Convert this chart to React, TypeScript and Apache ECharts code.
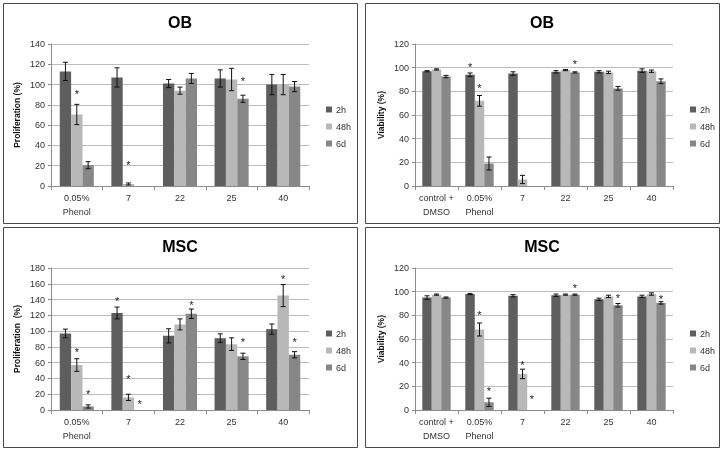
import React, { useEffect, useRef } from 'react';
import * as echarts from 'echarts';

const prolifCats = ['0.05%\nPhenol', '7', '22', '25', '40'];
const viabCats = ['control +\nDMSO', '0.05%\nPhenol', '7', '22', '25', '40'];
const seriesNames = ['2h', '48h', '6d'];
const barColors = ['#5e5e5e', '#b8b8b8', '#878787'];

// OB proliferation
const obProl2h = [113, 107, 101, 106, 100];
const obProl48h = [70.5, 2, 94, 105, 100];
const obProl6d = [20.5, 0, 106, 86, 98];
const obProl2hErr = [9, 9.5, 4, 8.5, 10];
const obProl48hErr = [10, 1, 3.5, 11, 10];
const obProl6dErr = [3.5, 0, 5, 3.5, 5];
const obProlStars = [[0, 1, 94], [1, 1, 23.5], [3, 2, 106]];

// OB viability
const obViab2h = [97, 94, 95, 96.5, 96.5, 97.5];
const obViab48h = [98.5, 72, 5.5, 98, 96, 97];
const obViab6d = [92.5, 19, 0, 96, 82.5, 88.5];
const obViab2hErr = [0.5, 1.5, 1.5, 1, 1, 1.5];
const obViab48hErr = [0.5, 4.5, 3.5, 0.5, 1, 1];
const obViab6dErr = [1, 5.5, 0, 0.5, 1.5, 2];
const obViabStars = [[1, 0, 102.7], [1, 1, 85.7], [3, 2, 106]];

// MSC proliferation
const mscProl2h = [97, 123, 94, 91, 102.5];
const mscProl48h = [57, 16, 108.5, 83.5, 145];
const mscProl6d = [4.5, 0, 122, 68, 70];
const mscProl2hErr = [5.5, 7.5, 9, 5.5, 6.5];
const mscProl48hErr = [8, 4, 7, 8, 14];
const mscProl6dErr = [2, 0, 6, 4, 4];
const mscProlStars = [[0, 1, 77], [0, 2, 24.4], [1, 0, 142], [1, 1, 42.5], [1, 2, 11.8], [2, 2, 137], [3, 2, 89.6], [4, 1, 170], [4, 2, 89.6]];

// MSC viability
const mscViab2h = [95, 98, 96.5, 97, 93.5, 96];
const mscViab48h = [97.5, 68, 30.5, 97.5, 96, 98];
const mscViab6d = [95, 6.5, 0, 97.5, 88.5, 90.5];
const mscViab2hErr = [1.5, 0.5, 1, 1, 1, 1];
const mscViab48hErr = [0.5, 5.5, 4, 0.5, 1, 1];
const mscViab6dErr = [0.5, 3.5, 0, 0.5, 1.5, 1];
const mscViabStars = [[1, 1, 82.7], [1, 2, 19], [2, 1, 40.4], [2, 2, 12], [3, 2, 106], [4, 2, 97.6], [5, 2, 96.7]];

const FONT = 'Liberation Sans';

type Panel = {
  title: string;
  cats: string[];
  values: number[][];
  errs: number[][];
  stars: number[][];
  yMax: number;
  yName: string;
  left: number;
  top: number;
  boxX: number;
  boxY: number;
};

const panels: Panel[] = [
  { title: 'OB', cats: prolifCats, values: [obProl2h, obProl48h, obProl6d], errs: [obProl2hErr, obProl48hErr, obProl6dErr], stars: obProlStars, yMax: 140, yName: 'Proliferation (%)', left: 51, top: 44, boxX: 3, boxY: 3 },
  { title: 'OB', cats: viabCats, values: [obViab2h, obViab48h, obViab6d], errs: [obViab2hErr, obViab48hErr, obViab6dErr], stars: obViabStars, yMax: 120, yName: 'Viability (%)', left: 415, top: 44, boxX: 365, boxY: 3 },
  { title: 'MSC', cats: prolifCats, values: [mscProl2h, mscProl48h, mscProl6d], errs: [mscProl2hErr, mscProl48hErr, mscProl6dErr], stars: mscProlStars, yMax: 180, yName: 'Proliferation  (%)', left: 51, top: 268, boxX: 3, boxY: 227 },
  { title: 'MSC', cats: viabCats, values: [mscViab2h, mscViab48h, mscViab6d], errs: [mscViab2hErr, mscViab48hErr, mscViab6dErr], stars: mscViabStars, yMax: 120, yName: 'Viability (%)', left: 415, top: 268, boxX: 365, boxY: 227 },
];

const GROUP = 0.66;

function errRender(params: any, api: any) {
  const cat = api.value(0);
  const val = api.value(1);
  const err = api.value(2);
  const s = api.value(3);
  const catW = api.size([1, 0])[0];
  const bw = (catW * GROUP) / 3;
  const cx = api.coord([cat, val])[0] + (s - 1) * bw;
  const yT = api.coord([cat, val + err])[1];
  const yB = api.coord([cat, Math.max(0, val - err)])[1];
  const hw = 2.5;
  const st = { stroke: '#111', lineWidth: 1 };
  return {
    type: 'group',
    children: [
      { type: 'line', shape: { x1: cx, y1: yT, x2: cx, y2: yB }, style: st },
      { type: 'line', shape: { x1: cx - hw, y1: yT, x2: cx + hw, y2: yT }, style: st },
      { type: 'line', shape: { x1: cx - hw, y1: yB, x2: cx + hw, y2: yB }, style: st },
    ],
  };
}

function starRender(params: any, api: any) {
  const cat = api.value(0);
  const y = api.value(1);
  const s = api.value(2);
  const catW = api.size([1, 0])[0];
  const bw = (catW * GROUP) / 3;
  const p = api.coord([cat, y]);
  return {
    type: 'text',
    x: p[0] + (s - 1) * bw,
    y: p[1] + 3,
    style: {
      text: '*',
      align: 'center',
      verticalAlign: 'middle',
      fontSize: 11,
      fontFamily: FONT,
      fill: '#222222',
      stroke: 'none',
    },
  };
}

export default function App() {
  const ref = useRef<HTMLDivElement>(null);
  useEffect(() => {
    if (!ref.current) return;
    const chart = echarts.init(ref.current, undefined, { renderer: 'svg' });
    const grid: any[] = [];
    const xAxis: any[] = [];
    const yAxis: any[] = [];
    const series: any[] = [];
    const legend: any[] = [];
    const graphic: any[] = [];
    panels.forEach((p, i) => {
      grid.push({ left: p.left, top: p.top, width: 258, height: 142 });
      xAxis.push({
        type: 'category',
        gridIndex: i,
        data: p.cats,
        axisLine: { lineStyle: { color: '#8c8c8c' } },
        axisTick: { show: true, length: 4, lineStyle: { color: '#8c8c8c' } },
        axisLabel: { fontSize: 9, fontFamily: FONT, color: '#333', lineHeight: 14, margin: 5, interval: 0 },
      });
      yAxis.push({
        type: 'value',
        gridIndex: i,
        min: 0,
        max: p.yMax,
        interval: 20,
        name: p.yName,
        nameLocation: 'middle',
        nameRotate: 90,
        nameGap: 30,
        nameTextStyle: { fontSize: 8.5, fontWeight: 'bold', fontFamily: FONT, color: '#111' },
        axisLine: { show: true, lineStyle: { color: '#8c8c8c' } },
        axisTick: { show: true, length: 3, lineStyle: { color: '#8c8c8c' } },
        axisLabel: { fontSize: 9, fontFamily: FONT, color: '#333', margin: 6 },
        splitLine: { lineStyle: { color: '#bdbdbd', width: 1 } },
      });
      p.values.forEach((vals, s) => {
        series.push({
          type: 'bar',
          name: seriesNames[s],
          xAxisIndex: i,
          yAxisIndex: i,
          data: vals,
          itemStyle: { color: barColors[s] },
          barGap: '0%',
          barCategoryGap: '34%',
        });
      });
      const errData: number[][] = [];
      p.values.forEach((vals, s) => {
        vals.forEach((v, c) => {
          const e = p.errs[s][c];
          if (v > 0 && e > 0) errData.push([c, v, e, s]);
        });
      });
      series.push({
        type: 'custom',
        xAxisIndex: i,
        yAxisIndex: i,
        data: errData,
        encode: { x: 0, y: 1 },
        renderItem: errRender,
        itemStyle: { color: '#111' },
        z: 5,
        silent: true,
      });
      series.push({
        type: 'custom',
        xAxisIndex: i,
        yAxisIndex: i,
        data: p.stars.map((st) => [st[0], st[2], st[1]]),
        encode: { x: 0, y: 1 },
        renderItem: starRender,
        itemStyle: { color: '#222222' },
        z: 6,
        silent: true,
      });
      legend.push({
        data: seriesNames,
        orient: 'vertical',
        left: p.left + 270,
        top: p.top + 56,
        itemWidth: 6,
        itemHeight: 6,
        itemGap: 8,
        icon: 'rect',
        selectedMode: false,
        textStyle: { fontSize: 9, fontFamily: FONT, color: '#333', padding: [0, 0, 0, -1] },
      });
      graphic.push({
        type: 'rect',
        shape: { x: p.boxX + 0.5, y: p.boxY + 0.5, width: 354, height: 220 },
        style: { fill: 'none', stroke: '#4a4a4a', lineWidth: 1 },
        z: -1,
      });
      graphic.push({
        type: 'text',
        x: p.boxX + 177,
        y: p.boxY + 19,
        style: {
          text: p.title,
          align: 'center',
          verticalAlign: 'middle',
          fontSize: 16,
          fontWeight: 'bold',
          fontFamily: FONT,
          fill: '#000',
        },
      });
    });
    chart.setOption({
      animation: false,
      backgroundColor: '#fff',
      color: ['#222222'],
      grid,
      xAxis,
      yAxis,
      series,
      legend,
      graphic,
    });
    return () => chart.dispose();
  }, []);
  return (
    <div
      ref={ref}
      style={{ position: 'absolute', left: 0, top: 0, width: 724, height: 451, willChange: 'transform', background: '#fff' }}
    />
  );
}
